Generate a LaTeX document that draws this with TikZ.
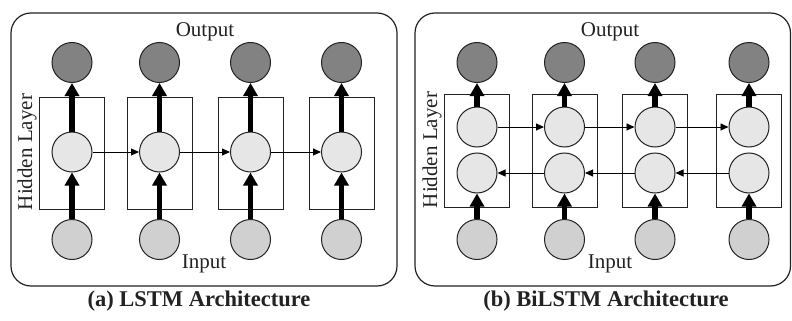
\documentclass[tikz,border=0pt]{standalone}
\usepackage{fontspec}
\setmainfont{Liberation Serif}
\usetikzlibrary{arrows.meta}
\definecolor{outc}{HTML}{828282}
\definecolor{hidc}{HTML}{E6E6E6}
\definecolor{inc}{HTML}{D0D0D0}
\definecolor{ink}{HTML}{222222}
\begin{document}
\begin{tikzpicture}[x=1pt,y=-1pt,
  panel/.style={draw=ink, line width=1.2pt, rounded corners=20pt},
  hbox/.style={draw=ink, line width=1pt},
  neuron/.style={circle, draw=ink, line width=1pt, minimum size=40pt, inner sep=0pt},
  outn/.style={neuron, fill=outc},
  hidn/.style={neuron, fill=hidc},
  inn/.style={neuron, fill=inc},
  bigarrow/.style={line width=5.8pt, -{Triangle[length=13pt,width=14pt]}},
  smallarrow/.style={line width=0.9pt, -{Triangle[length=8pt,width=7pt]}},
  lbl/.style={text=ink, inner sep=0pt, font=\fontsize{21}{24}\selectfont},
  captext/.style={text=ink, inner sep=0pt, font=\fontsize{22.5}{27}\selectfont\bfseries}
]
\useasboundingbox (0,0) rectangle (792,321);

% ---------- (a) LSTM ----------
\draw[panel] (11,13) rectangle (397,286);
\node[lbl] (outA) at (205,32) {Output};
\node[lbl] (inA) at (204,264) {Input};
\node[lbl, rotate=90] (hidA) at (27,152) {Hidden Layer};
\node[captext] (capA) at (199,301) {(a) LSTM Architecture};

\foreach \i/\x in {1/72,2/159.5,3/250.5,4/341.5}{
  \draw[hbox] (\x-32.5,97) rectangle (\x+32.5,209);
  \node[outn] (aO\i) at (\x,62.5) {};
  \node[hidn] (aH\i) at (\x,152) {};
  \node[inn] (aI\i) at (\x,239.5) {};
  \draw[bigarrow] (aI\i) -- (aH\i);
  \draw[bigarrow] (aH\i) -- (aO\i);
}
\draw[smallarrow] (aH1) -- (aH2);
\draw[smallarrow] (aH2) -- (aH3);
\draw[smallarrow] (aH3) -- (aH4);

% ---------- (b) BiLSTM ----------
\draw[panel] (415,13) rectangle (790.5,286);
\node[lbl] (outB) at (610,32) {Output};
\node[lbl] (inB) at (610,264) {Input};
\node[lbl, rotate=90] (hidB) at (432,150) {Hidden Layer};
\node[captext] (capB) at (606,301) {(b) BiLSTM Architecture};

\foreach \i/\x in {1/477,2/564.5,3/655,4/749}{
  \draw[hbox] (\x-32.5,94) rectangle (\x+32.5,207);
  \node[outn] (bO\i) at (\x,62.5) {};
  \node[hidn] (bU\i) at (\x,127) {};
  \node[hidn] (bL\i) at (\x,173) {};
  \node[inn] (bI\i) at (\x,239.5) {};
  \draw[bigarrow] (bI\i) -- (bL\i);
  \draw[bigarrow] (bU\i) -- (bO\i);
}
\draw[smallarrow] (bU1) -- (bU2);
\draw[smallarrow] (bU2) -- (bU3);
\draw[smallarrow] (bU3) -- (bU4);
\draw[smallarrow] (bL4) -- (bL3);
\draw[smallarrow] (bL3) -- (bL2);
\draw[smallarrow] (bL2) -- (bL1);
\end{tikzpicture}
\end{document}
